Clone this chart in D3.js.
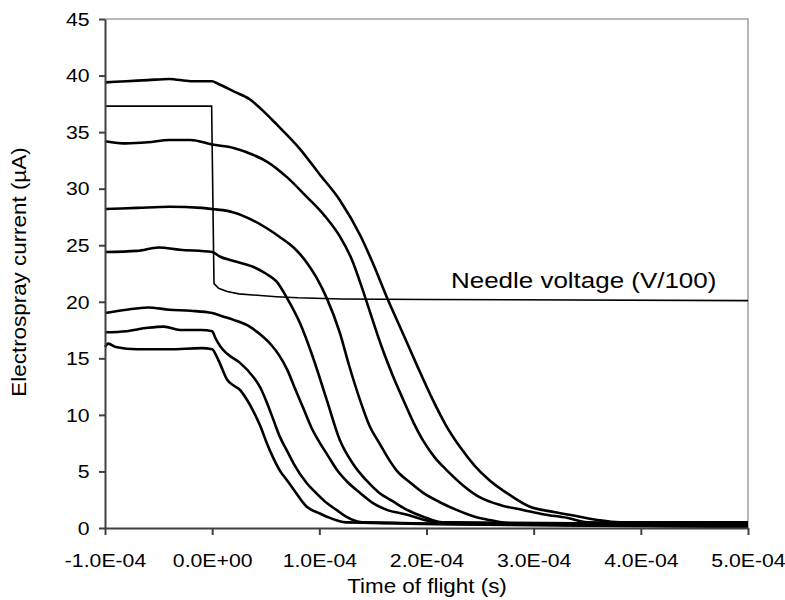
<!DOCTYPE html>
<meta charset="utf-8">
<style>
body { margin: 0; background: #fff; }
text { font-family: Arial, "Liberation Sans", sans-serif; fill: #000; }
.axis path, .axis line { stroke: #404040; stroke-width: 2px; }
.trace { fill: none; stroke: #000; stroke-width: 2.6px; stroke-linejoin: round; }
.needle { fill: none; stroke: #000; stroke-width: 1.6px; }
</style>
<svg width="785" height="600"></svg>
<script src="https://d3js.org/d3.v7.min.js"></script>
<script>

// time in microseconds, current in uA
var traceA = [[-100,39.4],[-80,39.5],[-60,39.6],[-40,39.7],[-20,39.5],[0,39.5],[5,39.3],[20,38.6],[35,37.9],[45,37.1],[60,35.7],[82,33.5],[100,31.3],[119,29.0],[138,25.9],[150,23.4],[163,20.4],[178,17.2],[191,14.4],[206,11.3],[218,9.1],[231,7.2],[245,5.5],[259,4.2],[278,2.9],[296,1.9],[320,1.4],[343,1.0],[360,0.7],[380,0.5],[500,0.5]];
var traceB = [[-100,34.2],[-80,34.0],[-60,34.1],[-40,34.3],[-20,34.3],[0,33.9],[20,33.6],[38,33.0],[51,32.4],[70,31.0],[88,29.3],[105,27.6],[119,25.8],[130,23.8],[141,20.9],[150,18.3],[159,15.8],[168,13.6],[178,11.4],[188,9.3],[197,7.7],[208,6.2],[219,5.1],[235,3.7],[250,2.7],[270,2.0],[290,1.6],[310,1.2],[331,0.9],[350,0.5],[500,0.35]];
var traceC = [[-100,28.2],[-70,28.3],[-40,28.4],[-10,28.3],[0,28.2],[10,28.1],[20,27.9],[38,27.2],[51,26.5],[65,25.6],[76,24.8],[88,23.5],[97,22.2],[107,20.3],[119,17.3],[128,14.3],[138,11.3],[147,9.0],[156,7.5],[164,6.2],[172,5.1],[185,4.0],[197,3.1],[212,2.3],[228,1.6],[245,1.0],[259,0.7],[280,0.4],[500,0.25]];
var traceD = [[-100,24.4],[-70,24.5],[-50,24.8],[-30,24.6],[0,24.4],[7,24.0],[20,23.6],[38,23.1],[50,22.5],[60,21.8],[70,20.3],[82,18.1],[94,15.1],[107,11.3],[119,7.8],[132,5.6],[144,4.2],[156,3.1],[168,2.4],[180,1.7],[197,1.0],[215,0.5],[500,0.3]];
var traceE = [[-100,19.0],[-80,19.3],[-60,19.5],[-40,19.3],[-20,19.2],[0,19.0],[10,18.7],[20,18.4],[35,17.8],[45,17.1],[55,16.2],[63,15.2],[70,14.0],[77,12.4],[85,10.6],[93,8.8],[100,7.6],[108,6.4],[116,5.2],[127,4.0],[138,3.1],[150,2.2],[163,1.6],[181,1.2],[195,0.8],[210,0.5],[500,0.2]];
var traceF = [[-100,17.3],[-80,17.4],[-60,17.7],[-45,17.8],[-30,17.5],[-10,17.5],[0,17.4],[3,16.8],[8,16.0],[14,15.4],[26,14.6],[38,13.4],[45,12.4],[51,11.1],[57,9.6],[63,8.1],[70,6.8],[76,5.7],[88,4.0],[98,3.0],[107,2.2],[116,1.6],[125,1.0],[140,0.5],[500,0.15]];
var traceG = [[-100,16.0],[-97,16.3],[-90,16.0],[-70,15.8],[-40,15.8],[-10,15.9],[0,15.8],[4,15.2],[7,14.6],[14,13.1],[20,12.6],[26,12.2],[32,11.4],[38,10.4],[45,9.0],[51,7.5],[57,6.2],[63,5.1],[70,4.2],[76,3.4],[88,1.9],[100,1.3],[107,1.0],[125,0.5],[500,0.1]];
var needle = [[-100,37.3],[-0.5,37.3],[1.7,21.6],[6,21.2],[14,20.9],[25,20.7],[38,20.6],[60,20.45],[80,20.35],[120,20.25],[200,20.2],[500,20.1]];

var traces = [traceA, traceB, traceC, traceD, traceE, traceF, traceG];

var xTicks = [-1e-4, 0, 1e-4, 2e-4, 3e-4, 4e-4, 5e-4];
var xTickLabels = ["-1.0E-04", "0.0E+00", "1.0E-04", "2.0E-04", "3.0E-04", "4.0E-04", "5.0E-04"];
var yTicks = [0, 5, 10, 15, 20, 25, 30, 35, 40, 45];

var svg = d3.select("svg"),
    x0 = 105, x1 = 748, y0 = 528, y1 = 19;

var x = d3.scaleLinear().domain([-1e-4, 5e-4]).range([x0, x1]);
var y = d3.scaleLinear().domain([0, 45]).range([y0, y1]);

var line = d3.line()
    .x(function(d) { return x(d[0] * 1e-6); })
    .y(function(d) { return y(d[1]); })
    .curve(d3.curveMonotoneX);

// frame (top and right in light grey)
svg.append("path")
    .attr("d", "M" + x0 + "," + y1 + "H" + x1 + "V" + y0)
    .attr("fill", "none")
    .attr("stroke", "#a0a0a0")
    .attr("stroke-width", 1.5);

svg.append("g").selectAll("path")
    .data(traces)
    .join("path")
    .attr("class", "trace")
    .attr("d", line);

svg.append("path")
    .datum(needle)
    .attr("class", "needle")
    .attr("d", d3.line()
      .x(function(d) { return x(d[0] * 1e-6); })
      .y(function(d) { return y(d[1]); }));

var gx = svg.append("g").attr("class", "axis")
    .attr("transform", "translate(0," + y0 + ")")
    .call(d3.axisBottom(x).tickValues(xTicks).tickSize(7).tickSizeOuter(0)
      .tickFormat(function(d, i) { return xTickLabels[i]; }));
gx.selectAll("text")
    .attr("y", 39).attr("dy", null)
    .style("font-size", "18px")
    .attr("transform", "scale(1.18,1)");

var gy = svg.append("g").attr("class", "axis")
    .attr("transform", "translate(" + x0 + ",0)")
    .call(d3.axisLeft(y).tickValues(yTicks).tickSize(6).tickSizeOuter(0));
gy.selectAll("text")
    .attr("x", -13).attr("dy", "0.35em")
    .style("font-size", "18px")
    .attr("transform", "scale(1.18,1)");

svg.append("text")
    .attr("transform", "translate(451,288) scale(1.18,1)")
    .style("font-size", "22px")
    .text("Needle voltage (V/100)");

svg.append("text")
    .attr("transform", "translate(427,593) scale(1.12,1)")
    .attr("text-anchor", "middle")
    .style("font-size", "20px")
    .text("Time of flight (s)");

svg.append("text")
    .attr("transform", "translate(26,272) rotate(-90) scale(1.12,1)")
    .attr("text-anchor", "middle")
    .style("font-size", "20px")
    .text("Electrospray current (\u00b5A)");

</script>
